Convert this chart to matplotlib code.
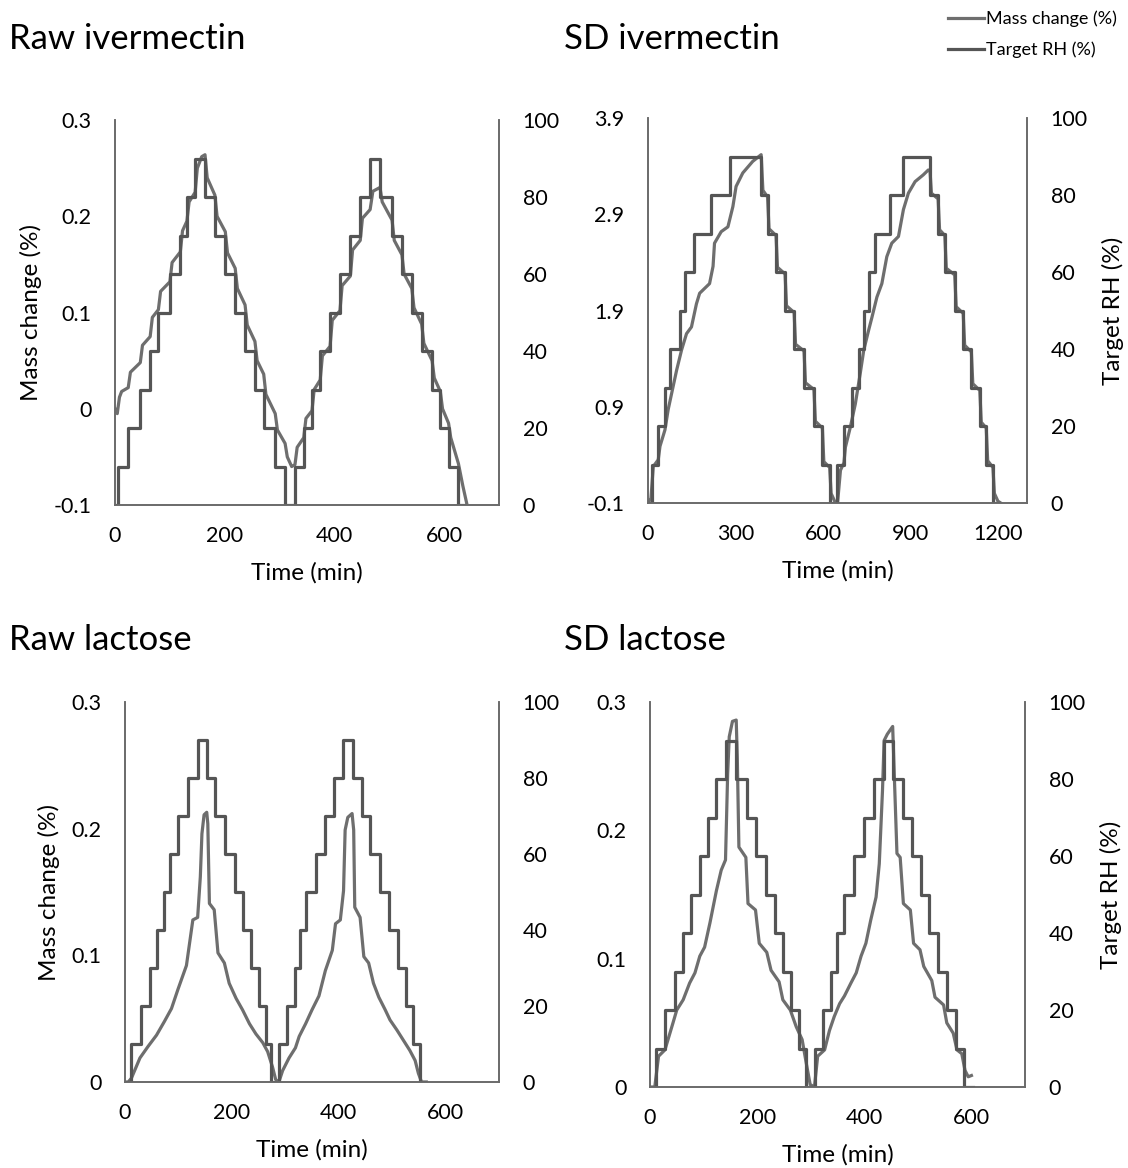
import matplotlib
matplotlib.use('Agg')
import matplotlib.pyplot as plt
from matplotlib.lines import Line2D
from matplotlib.ticker import FuncFormatter

plt.rcParams['font.family'] = ['Lato', 'DejaVu Sans']
plt.rcParams['axes.unicode_minus'] = False

# ---- Target RH steps (time in min at which each level starts; last entry = end) ----
rh_levels = [0, 10, 20, 30, 40, 50, 60, 70, 80, 90, 80, 70, 60, 50, 40, 30, 20, 10,
             0, 10, 20, 30, 40, 50, 60, 70, 80, 90, 80, 70, 60, 50, 40, 30, 20, 10, 0, 0]

raw_iver_rh_t = [0, 6, 24, 46, 64, 79, 100, 119, 131, 146, 164, 182, 201, 219, 237, 255, 271, 292,
                 310, 328, 344, 359, 374, 392, 410, 429, 447, 465, 483, 505, 523, 541, 559, 578, 593, 608, 626, 636]
sd_iver_rh_t = [0, 12, 35, 58, 77, 109, 126, 157, 217, 282, 388, 410, 439, 470, 501, 535, 569, 598,
                623, 649, 672, 700, 723, 740, 757, 780, 831, 873, 967, 995, 1018, 1052, 1081, 1109, 1138, 1160, 1183, 1200]
raw_lac_rh_t = [0, 12, 30, 47, 59, 73, 84, 100, 117, 136, 154, 169, 187, 205, 220, 236, 251, 264,
                273, 288, 303, 318, 327, 338, 357, 374, 391, 408, 427, 443, 459, 477, 494, 510, 525, 539, 552, 562]
sd_lac_rh_t = [0, 12, 28, 46, 62, 77, 93, 108, 124, 141, 161, 181, 198, 217, 234, 248, 264, 278,
               291, 308, 323, 338, 349, 363, 381, 399, 419, 437, 453, 473, 489, 505, 521, 538, 555, 571, 586, 602]

# ---- Mass change (%) ----
raw_iver_t = [0, 4, 8, 12, 24, 28, 46, 50, 64, 68, 79, 83, 100, 104, 119, 123, 131, 135, 146, 150, 158,
              164, 168, 182, 186, 201, 205, 219, 223, 237, 241, 255, 259, 271, 275, 292, 296, 310, 314,
              322, 328, 332, 344, 348, 359, 363, 374, 378, 392, 396, 410, 414, 429, 433, 447, 451, 465,
              470, 483, 487, 505, 509, 523, 527, 541, 545, 559, 563, 578, 582, 593, 597, 608, 612, 626,
              634, 641]
raw_iver_m = [0.0, -0.005, 0.012, 0.018, 0.022, 0.038, 0.048, 0.066, 0.075, 0.095, 0.103, 0.122,
              0.132, 0.152, 0.163, 0.185, 0.195, 0.215, 0.225, 0.250, 0.262, 0.264, 0.240, 0.222, 0.200,
              0.184, 0.162, 0.146, 0.125, 0.108, 0.087, 0.070, 0.050, 0.036, 0.015, -0.005, -0.022,
              -0.036, -0.050, -0.060, -0.058, -0.040, -0.030, -0.010, -0.002, 0.020, 0.030, 0.055, 0.065,
              0.092, 0.102, 0.128, 0.138, 0.165, 0.175, 0.198, 0.207, 0.226, 0.230, 0.215, 0.196, 0.175,
              0.160, 0.140, 0.125, 0.105, 0.088, 0.068, 0.050, 0.032, 0.018, 0.000, -0.015, -0.030,
              -0.057, -0.080, -0.098]

sd_iver_t = [0, 10, 18, 35, 41, 58, 69, 81, 98, 115, 132, 149, 166, 177, 211, 223, 228, 251, 274, 291,
             302, 325, 359, 388, 394, 410, 415, 439, 444, 470, 475, 501, 506, 535, 540, 569, 574, 598,
             603, 623, 628, 640, 650, 660, 672, 677, 694, 711, 728, 740, 757, 768, 785, 802, 819, 836,
             859, 876, 893, 916, 944, 961, 967, 972, 995, 1000, 1018, 1023, 1052, 1057, 1081, 1086, 1109,
             1114, 1138, 1143, 1160, 1165, 1183, 1188, 1200, 1210]
sd_iver_m = [-0.1, -0.05, 0.28, 0.35, 0.49, 0.66, 0.87, 1.04, 1.28, 1.49, 1.66, 1.73, 1.97, 2.08, 2.18,
             2.36, 2.60, 2.72, 2.77, 2.98, 3.19, 3.33, 3.45, 3.52, 3.15, 3.08, 2.75, 2.68, 2.35, 2.28,
             1.95, 1.88, 1.55, 1.48, 1.15, 1.08, 0.75, 0.68, 0.33, 0.27, 0.0, -0.08, -0.1, 0.24, 0.32,
             0.48, 0.69, 0.93, 1.25, 1.49, 1.70, 1.83, 2.04, 2.18, 2.46, 2.60, 2.67, 2.95, 3.12, 3.24,
             3.31, 3.36, 3.36, 3.12, 3.06, 2.74, 2.68, 2.34, 2.27, 1.94, 1.87, 1.54, 1.47, 1.14, 1.07,
             0.74, 0.68, 0.34, 0.27, 0.0, -0.08, -0.1]

raw_lac_t = [0, 6, 12, 28, 43, 59, 74, 87, 99, 115, 127, 136, 141, 144, 148, 153, 155, 158, 167, 174,
             186, 195, 208, 220, 233, 245, 258, 267, 276, 282, 288, 295, 307, 319, 326, 338, 350, 363,
             375, 388, 394, 403, 409, 412, 417, 425, 428, 430, 440, 447, 456, 465, 475, 487, 496, 509,
             521, 533, 543, 549, 555, 564]
raw_lac_m = [0.0, 0.0, 0.003, 0.019, 0.028, 0.037, 0.048, 0.058, 0.073, 0.092, 0.128, 0.130, 0.162,
             0.196, 0.211, 0.213, 0.204, 0.141, 0.136, 0.102, 0.094, 0.078, 0.066, 0.057, 0.046, 0.038,
             0.031, 0.024, 0.012, 0.002, 0.0, 0.009, 0.019, 0.027, 0.036, 0.046, 0.057, 0.068, 0.088,
             0.104, 0.125, 0.128, 0.151, 0.199, 0.209, 0.212, 0.199, 0.138, 0.130, 0.099, 0.094, 0.078,
             0.067, 0.057, 0.049, 0.041, 0.033, 0.025, 0.017, 0.007, 0.0, 0.0]

sd_lac_t = [0, 9, 16, 28, 43, 50, 62, 74, 84, 93, 102, 112, 124, 133, 141, 145, 148, 154, 161, 163, 166,
            179, 183, 197, 204, 218, 226, 241, 248, 262, 273, 284, 292, 299, 307, 313, 326, 335, 344,
            354, 363, 375, 385, 394, 403, 412, 422, 428, 434, 437, 443, 453, 457, 461, 467, 473, 486,
            492, 504, 511, 526, 532, 548, 554, 566, 573, 582, 588, 594, 600]
sd_lac_m = [0.0, 0.0, 0.024, 0.029, 0.050, 0.060, 0.068, 0.081, 0.089, 0.102, 0.109, 0.128, 0.153,
            0.169, 0.177, 0.244, 0.273, 0.285, 0.286, 0.257, 0.187, 0.179, 0.143, 0.138, 0.112, 0.105,
            0.091, 0.082, 0.068, 0.060, 0.047, 0.037, 0.018, 0.002, 0.0, 0.024, 0.029, 0.044, 0.055,
            0.065, 0.071, 0.081, 0.089, 0.102, 0.112, 0.130, 0.148, 0.174, 0.231, 0.270, 0.275, 0.281,
            0.231, 0.182, 0.179, 0.143, 0.138, 0.112, 0.107, 0.094, 0.083, 0.070, 0.064, 0.050, 0.042,
            0.029, 0.026, 0.013, 0.008, 0.009]

titles = ['Raw ivermectin', 'SD ivermectin', 'Raw lactose', 'SD lactose']

mass_col = '#6e6e6e'
rh_col = '#555555'
spine_col = '#6a6a6a'

fig = plt.figure(figsize=(11.28, 11.68), dpi=100)

panels = [
    # rect, title pos, mass data, rh times, xlim, xticks, ylim, yticks, left label, right label
    ([0.1020, 0.5676, 0.3404, 0.3296], (0.008, 0.967), raw_iver_t, raw_iver_m, raw_iver_rh_t,
     700, [0, 200, 400, 600], (-0.1, 0.3), [-0.1, 0, 0.1, 0.2, 0.3], True, False),
    ([0.5745, 0.5693, 0.3360, 0.3296], (0.500, 0.967), sd_iver_t, sd_iver_m, sd_iver_rh_t,
     1300, [0, 300, 600, 900, 1200], (-0.1, 3.9), [-0.1, 0.9, 1.9, 2.9, 3.9], False, True),
    ([0.1108, 0.0736, 0.3316, 0.3253], (0.008, 0.452), raw_lac_t, raw_lac_m, raw_lac_rh_t,
     700, [0, 200, 400, 600], (0, 0.3), [0, 0.1, 0.2, 0.3], True, False),
    ([0.5762, 0.0693, 0.3325, 0.3296], (0.500, 0.452), sd_lac_t, sd_lac_m, sd_lac_rh_t,
     700, [0, 200, 400, 600], (0, 0.3), [0, 0.1, 0.2, 0.3], False, True),
]

fmt = FuncFormatter(lambda v, _: f"{v:g}")

for title, (rect, tpos, mt, mv, rt, xmax, xt, ylim, yt, left_lab, right_lab) in zip(titles, panels):
    ax = fig.add_axes(rect)
    ax2 = ax.twinx()

    ax.plot(mt, mv, color=mass_col, lw=2.3, solid_joinstyle='round')
    ax2.step(rt, rh_levels, where='post', color=rh_col, lw=2.3)

    ax.set_xlim(0, xmax)
    ax.set_xticks(xt)
    ax.set_ylim(*ylim)
    ax.set_yticks(yt)
    ax.yaxis.set_major_formatter(fmt)
    ax2.set_ylim(0, 100)
    ax2.set_yticks(range(0, 101, 20))

    for a in (ax, ax2):
        a.tick_params(length=0, labelsize=15.5, pad=17)
        a.spines['top'].set_visible(False)
        for s in ('left', 'right', 'bottom'):
            a.spines[s].set_color(spine_col)
            a.spines[s].set_linewidth(1.2)
        a.patch.set_visible(False)
    ax.tick_params(axis='x', pad=15)

    ax.set_xlabel('Time (min)', fontsize=17.5, labelpad=12)
    if left_lab:
        ax.set_ylabel('Mass change (%)', fontsize=17.5, labelpad=8)
    if right_lab:
        ax2.set_ylabel('Target RH (%)', fontsize=17.5, labelpad=10)

    fig.text(tpos[0], tpos[1], title, fontsize=25, ha='left', va='center')

handles = [Line2D([], [], color=mass_col, lw=2.3), Line2D([], [], color=rh_col, lw=2.3)]
fig.legend(handles, ['Mass change (%)', 'Target RH (%)'], loc='upper right',
           bbox_to_anchor=(1.0, 1.0), frameon=False, fontsize=13, handlelength=2.0,
           handletextpad=0.1, labelspacing=0.8, borderaxespad=0.2)

fig.savefig('out.png', dpi=100)
